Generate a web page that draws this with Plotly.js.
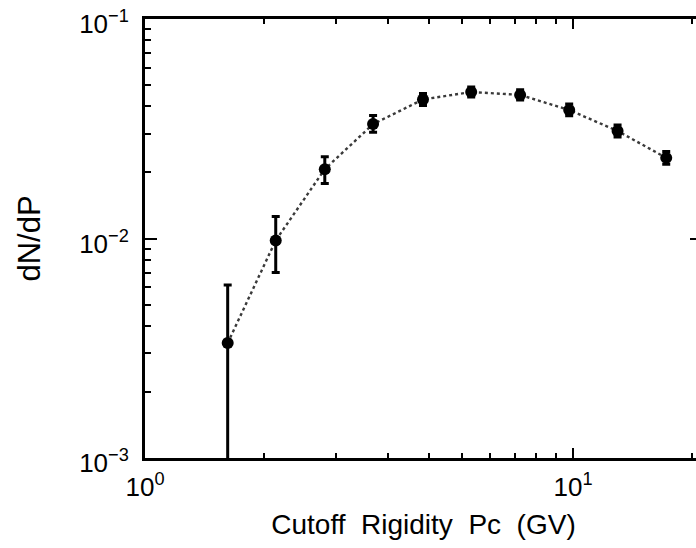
<!DOCTYPE html>
<html>
<head>
<meta charset="utf-8">
<script src="https://cdn.plot.ly/plotly-3.0.1.min.js"></script>
<style>
  html, body { margin: 0; padding: 0; background: #fff; overflow: hidden; }
  #chart { width: 704px; height: 548px; }
</style>
</head>
<body>
<div id="chart"></div>
<script>
// Cutoff rigidity (GV)
const rigidity = [1.56, 2.02, 2.63, 3.41, 4.46, 5.78, 7.52, 9.79, 12.7, 16.5];
// dN/dP
const dNdP = [0.00334, 0.0098, 0.0207, 0.0332, 0.0430, 0.0465, 0.0451, 0.0385, 0.0309, 0.0233];
// error bars
const errUp = [0.0028, 0.0028, 0.0029, 0.0031, 0.0028, 0.0025, 0.0025, 0.0025, 0.0020, 0.0016];
const errDown = [0.0034, 0.0028, 0.0029, 0.0027, 0.0026, 0.0024, 0.0024, 0.0023, 0.0019, 0.0015];

// tick values / labels
const xMajor = [1, 10];
const xExp = ['0', '1'];
const xMinor = [1.9, 2.8, 3.7, 4.6, 5.5, 6.4, 7.3, 8.2, 9.1, 19];
const yMajor = [0.001, 0.01, 0.1];
const yExp = ['\u22123', '\u22122', '\u22121'];
const yMinor = [0.002, 0.003, 0.004, 0.005, 0.006, 0.007, 0.008, 0.009,
                0.02, 0.03, 0.04, 0.05, 0.06, 0.07, 0.08, 0.09];

const FONT = 'Liberation Sans, Arial, Helvetica, sans-serif';
const pow10 = e => '10<sup>' + e + '</sup>';

const trace = {
  x: rigidity,
  y: dNdP,
  type: 'scatter',
  mode: 'lines+markers',
  line: { color: '#3a3a3a', width: 2.4, dash: 'dot' },
  marker: { symbol: 'circle', size: 12, color: '#000000' },
  error_y: {
    type: 'data', symmetric: false,
    array: errUp, arrayminus: errDown,
    color: '#000000', thickness: 3, width: 4
  },
  hoverinfo: 'skip',
  showlegend: false
};

const axisCommon = {
  type: 'log',
  tickmode: 'array',
  ticks: 'inside',
  tickwidth: 2,
  tickcolor: '#000',
  showline: true,
  linewidth: 3,
  linecolor: '#000',
  mirror: 'allticks',
  showgrid: false,
  zeroline: false,
  ticklabeloverflow: 'allow',
  tickfont: { family: FONT, size: 26, color: '#000' }
};

const layout = {
  width: 704,
  height: 548,
  margin: { l: 145, r: 2, t: 19, b: 90 },
  paper_bgcolor: '#fff',
  plot_bgcolor: '#fff',
  font: { family: FONT, color: '#000' },
  xaxis: Object.assign({}, axisCommon, {
    range: [0, Math.log10(20)],
    tickvals: xMajor,
    ticktext: xMajor.map((v, i) => pow10(xExp[i])),
    ticklen: 10,
    ticklabelstandoff: 4,
    minor: { tickmode: 'array', tickvals: xMinor, ticks: 'inside', ticklen: 5, tickwidth: 2, tickcolor: '#000', showgrid: false },
    title: { text: 'Cutoff  Rigidity  Pc  (GV)', font: { family: FONT, size: 28, color: '#000' }, standoff: 14 }
  }),
  yaxis: Object.assign({}, axisCommon, {
    range: [-3, -1],
    tickvals: yMajor,
    ticktext: yMajor.map((v, i) => pow10(yExp[i])),
    ticklen: 12,
    ticklabelstandoff: 8,
    ticklabelshift: 5,
    minor: { tickmode: 'array', tickvals: yMinor, ticks: 'inside', ticklen: 6, tickwidth: 2, tickcolor: '#000', showgrid: false },
    title: { text: 'dN/dP', font: { family: FONT, size: 31, color: '#000' }, standoff: 30 }
  })
};

Plotly.newPlot('chart', [trace], layout, { staticPlot: true, displayModeBar: false });
</script>
</body>
</html>
